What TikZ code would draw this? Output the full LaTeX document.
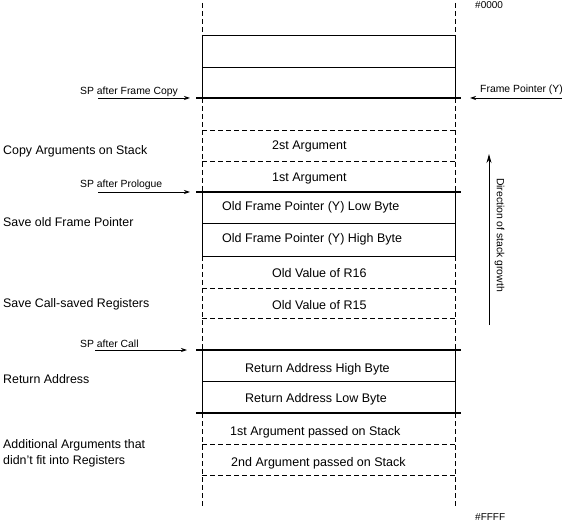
\documentclass[tikz,border=0pt]{standalone}
\usepackage{fontspec}
\setmainfont{Liberation Sans}
\usetikzlibrary{arrows.meta}
\begin{document}
\begin{tikzpicture}[x=1pt,y=-1pt,
  thinline/.style={line width=0.9pt},
  boldline/.style={line width=2.4pt},
  dline/.style={line width=0.9pt, dash pattern=on 5pt off 3pt},
  cell/.style={anchor=base west, inner sep=0pt, font=\fontsize{12.5}{14}\selectfont},
  side/.style={anchor=base west, inner sep=0pt, font=\fontsize{12.4}{16}\selectfont},
  sp/.style={anchor=base west, inner sep=0pt, font=\fontsize{10.4}{12}\selectfont},
  addr/.style={anchor=base west, inner sep=0pt, font=\fontsize{10}{12}\selectfont},
  ptr/.style={-{Stealth[length=6pt,width=4pt]}, line width=0.8pt},
  growarrow/.style={-{Stealth[length=9pt,width=5pt]}, line width=0.9pt},
]
\useasboundingbox (0,0) rectangle (570,521);

% vertical edges
\foreach \x in {202,455}{
  \draw[dline] (\x,3) -- (\x,35);
  \draw[thinline] (\x,35) -- (\x,98);
  \draw[dline] (\x,98) -- (\x,192);
  \draw[thinline] (\x,192) -- (\x,256);
  \draw[dline] (\x,256) -- (\x,350);
  \draw[thinline] (\x,350) -- (\x,413);
  \draw[dline] (\x,413) -- (\x,508);
}

% horizontal thin solid
\foreach \y in {35,67,223,256,381}{
  \draw[thinline] (202,\y) -- (455,\y);
}
% horizontal dashed
\foreach \y in {130,161,288,318,444,475}{
  \draw[dline] (202,\y) -- (455,\y);
}
% horizontal bold
\foreach \y in {98,192,350,413}{
  \draw[boldline] (196,\y) -- (461,\y);
}

% cell texts
\node[cell] (c2st) at (272,150) {2st Argument};
\node[cell] (c1st) at (272,182) {1st Argument};
\node[cell] (cfpl) at (222,211) {Old Frame Pointer (Y) Low Byte};
\node[cell] (cfph) at (222,243) {Old Frame Pointer (Y) High Byte};
\node[cell] (cr16) at (272,277) {Old Value of R16};
\node[cell] (cr15) at (272,309) {Old Value of R15};
\node[cell] (crah) at (245,372) {Return Address High Byte};
\node[cell] (cral) at (245,402) {Return Address Low Byte};
\node[cell] (cp1) at (230,435) {1st Argument passed on Stack};
\node[cell] (cp2) at (231,466) {2nd Argument passed on Stack};

% side texts
\node[side] (lcopy) at (3,155) {Copy Arguments on Stack};
\node[side] (lsave) at (3,227) {Save old Frame Pointer};
\node[side] (lcall) at (3,307) {Save Call-saved Registers};
\node[side] (lret) at (3,383) {Return Address};
\node[side] (ladd1) at (3,448) {Additional Arguments that};
\node[side] (ladd2) at (3,464) {didn't fit into Registers};

% addresses
\node[addr] (a0) at (475,9) {\#0000};
\node[addr] (aF) at (475,520) {\#FFFF};

% SP pointers
\node[sp] (spfc) at (80,95) {SP after Frame Copy};
\node[sp] (sppr) at (80,188) {SP after Prologue};
\node[sp] (spca) at (80,347) {SP after Call};
\node[sp] (fpy) at (480,93) {Frame Pointer (Y)};

\coordinate (fc0) at (98,98);  \coordinate (fc1) at (190,98);
\coordinate (pr0) at (98,192); \coordinate (pr1) at (190,192);
\coordinate (ca0) at (95,350); \coordinate (ca1) at (187,350);
\coordinate (fp0) at (562,98); \coordinate (fp1) at (470,98);
\draw[ptr] (fc0) -- (fc1);
\draw[ptr] (pr0) -- (pr1);
\draw[ptr] (ca0) -- (ca1);
\draw[ptr] (fp0) -- (fp1);

% direction of growth
\coordinate (g0) at (489,325);
\coordinate (g1) at (489,154);
\draw[growarrow] (g0) -- (g1);
\node[sp, anchor=center, rotate=-90] (grow) at (499.5,235) {Direction of stack growth};

\end{tikzpicture}
\end{document}
